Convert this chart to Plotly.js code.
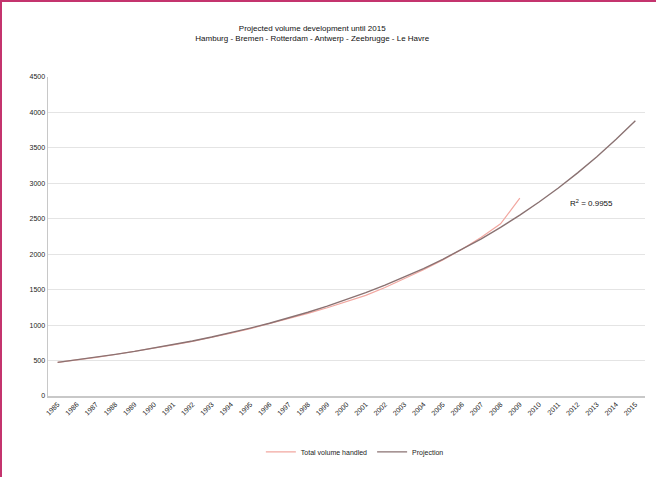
<!DOCTYPE html>
<html>
<head>
<meta charset="utf-8">
<script src="https://cdn.plot.ly/plotly-3.0.1.min.js"></script>
<style>
html,body{margin:0;padding:0;background:#fff;}
#wrap{position:absolute;left:0;top:0;width:656px;height:477px;box-sizing:border-box;border-left:2px solid #c4346e;border-top:2px solid #c4346e;pointer-events:none;}
#chart{position:absolute;left:0;top:0;width:656px;height:477px;}
</style>
</head>
<body>
<div id="chart"></div>
<div id="wrap"></div>
<script>
const years = ["1985","1986","1987","1988","1989","1990","1991","1992","1993","1994","1995","1996","1997","1998","1999","2000","2001","2002","2003","2004","2005","2006","2007","2008","2009","2010","2011","2012","2013","2014","2015"];
const handledYears = years.slice(0, 25);
const handled = [475,508,545,585,628,672,720,770,825,885,950,1020,1090,1165,1245,1330,1420,1530,1650,1780,1920,2070,2240,2430,2790];
const projection = [475,510,547,587,629,675,724,776,832,893,958,1027,1101,1181,1267,1359,1457,1563,1676,1798,1928,2068,2218,2379,2551,2736,2935,3148,3376,3621,3883];
const yTicks = [0,500,1000,1500,2000,2500,3000,3500,4000,4500];
const r2Label = "R<sup>2</sup> = 0.9955";

const traces = [
  {x: handledYears, y: handled, type: 'scatter', mode: 'lines', name: 'Total volume handled',
   line: {color: '#f2a7a0', width: 1.2}},
  {x: years, y: projection, type: 'scatter', mode: 'lines', name: 'Projection',
   line: {color: '#8a7272', width: 1.4}}
];

const layout = {
  width: 656, height: 477,
  margin: {l: 48, r: 11, t: 77, b: 77},
  paper_bgcolor: '#fff', plot_bgcolor: '#fff',
  font: {family: 'Liberation Sans, Arial, sans-serif', color: '#222', size: 7},
  title: {text: 'Projected volume development until 2015<br>Hamburg - Bremen - Rotterdam - Antwerp - Zeebrugge - Le Havre',
          font: {size: 8, color: '#111'}, x: 0.476, xref: 'container', xanchor: 'center', y: 0.935, yanchor: 'middle'},
  xaxis: {type: 'category', categoryorder: 'array', categoryarray: years, range: [-0.5, 30.5],
          tickangle: -45, tickfont: {size: 7, color: '#222'}, showgrid: false, zeroline: false,
          showline: true, linecolor: '#c8c8c8', linewidth: 1.5, ticks: '', fixedrange: true},
  yaxis: {range: [0, 4500], tickvals: yTicks, ticktext: yTicks.map(String), tickfont: {size: 7, color: '#222'},
          showgrid: true, gridcolor: '#e4e4e4', gridwidth: 1, zeroline: false,
          showline: true, linecolor: '#c8c8c8', linewidth: 1.5, ticks: '', fixedrange: true},
  showlegend: true,
  legend: {orientation: 'h', x: 0.514, xanchor: 'center', y: -0.175, yanchor: 'middle',
           font: {size: 7, color: '#222'}},
  annotations: [
    {x: 27.7, y: 2720, xref: 'x', yref: 'y', text: r2Label, showarrow: false,
     font: {size: 8, color: '#111'}, xanchor: 'center', yanchor: 'middle'}
  ]
};

Plotly.newPlot('chart', traces, layout, {displayModeBar: false, staticPlot: true});
</script>
</body>
</html>
